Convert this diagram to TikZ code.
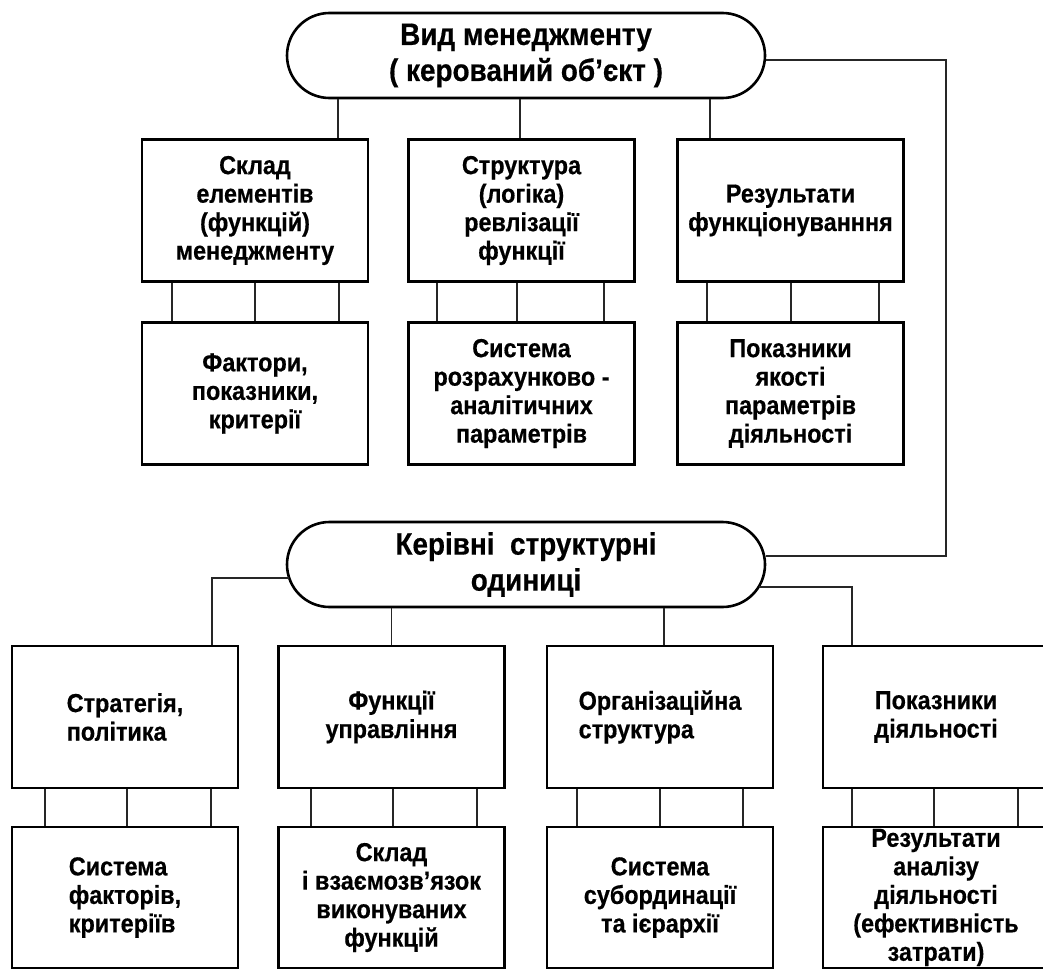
\documentclass[tikz,border=0pt]{standalone}
\usepackage{fontspec}
\setmainfont{Liberation Sans}
\newfontfamily\diagfont{Liberation Sans Bold}[FakeStretch=0.9, FakeBold=0.5]
\usetikzlibrary{shapes.misc}
\begin{document}
\begin{tikzpicture}[x=1pt,y=-1pt,
  box/.style={draw=black, line width=2.6pt, minimum width=226pt, minimum height=142pt,
    inner sep=0pt, align=center, font=\diagfont\fontsize{26}{28.5}\selectfont},
  oval/.style={draw=black, line width=2.6pt, rounded rectangle, minimum width=478pt,
    minimum height=85pt, inner sep=0pt, align=center, font=\diagfont\fontsize{31}{36}\selectfont},
  conn/.style={draw=black!85, line width=1.6pt}]
\useasboundingbox (0,0) rectangle (1043,969);
\clip (0,0) rectangle (1043,969);
\fill[white] (0,0) rectangle (1043,969);

% upper part
\node[oval] (top) at (526,55.5) {Вид менеджменту\\( керований об’єкт )};
\node[box] (a1) at (255,210.5) {Склад\\елементів\\(функцій)\\менеджменту};
\node[box] (a2) at (521.5,210.5) {Структура\\(логіка)\\ревлізації\\функції};
\node[box] (a3) at (790.5,210.5) {Результати\\функціонува{н}{н}{н}я};
\node[box] (b1) at (255,393.5) {Фактори,\\показники,\\критерії};
\node[box] (b2) at (521.5,393.5) {Система\\розрахунково -\\аналітичних\\параметрів};
\node[box] (b3) at (790.5,393.5) {Показники\\якості\\параметрів\\діяльності};

% lower part
\node[oval] (low) at (526,564.5) {Керівні\ \ структурні\\одиниці};
\node[box, align=left] (c1) at (125,717) {Стратегія,\\політика};
\node[box] (c2) at (391.5,717) {Функції\\управління};
\node[box, align=left] (c3) at (660,717) {Організаційна\\структура};
\node[box] (c4) at (936,717) {Показники\\діяльності};
\node[box, minimum height=141pt, align=left] (d1) at (125,897.5) {Система\\факторів,\\критеріїв};
\node[box, minimum height=141pt] (d2) at (391.5,897.5) {Склад\\і взаємозв’язок\\виконуваних\\функцій};
\node[box, minimum height=141pt] (d3) at (660,897.5) {Система\\субординації\\та ієрархії};
\node[box, minimum height=141pt] (d4) at (936,897.5) {Результати\\аналізу\\діяльності\\(ефективність\\затрати)};

% connectors from top oval
\foreach \b/\o in {a1/83, a2/-1.5, a3/-80.5}
  \draw[conn] ([xshift=\o pt]\b.north) -- ([xshift=\o pt]\b.north |- top.south);

% triple connectors
\foreach \u/\l/\o in {a1/b1/-83, a1/b1/0, a1/b1/84,
                      a2/b2/-84.5, a2/b2/-4.5, a2/b2/82.5,
                      a3/b3/-83.5, a3/b3/0.5, a3/b3/88.5,
                      c1/d1/-80, c1/d1/2, c1/d1/86,
                      c2/d2/-80.5, c2/d2/1.5, c2/d2/85.5,
                      c3/d3/-83, c3/d3/0, c3/d3/83,
                      c4/d4/-84, c4/d4/-2, c4/d4/82}
  \draw[conn] ([xshift=\o pt]\u.south) -- ([xshift=\o pt]\l.north);

% loop from top oval to lower oval
\coordinate (rt) at (946,60);
\coordinate (rb) at (946,556);
\draw[conn] (rt -| top.east) -- (rt) -- (rb) -- (rb -| low.east);

% connectors from lower oval
\coordinate (lleft) at (289,578);
\coordinate (lright) at (759,587);
\draw[conn] (lleft) -| ([xshift=87pt]c1.north);
\draw[conn] (lright) -| ([xshift=-84pt]c4.north);
\draw[conn] (c2.north) -- (c2.north |- low.south);
\draw[conn] ([xshift=4pt]c3.north) -- ([xshift=4pt]c3.north |- low.south);
\end{tikzpicture}
\end{document}
